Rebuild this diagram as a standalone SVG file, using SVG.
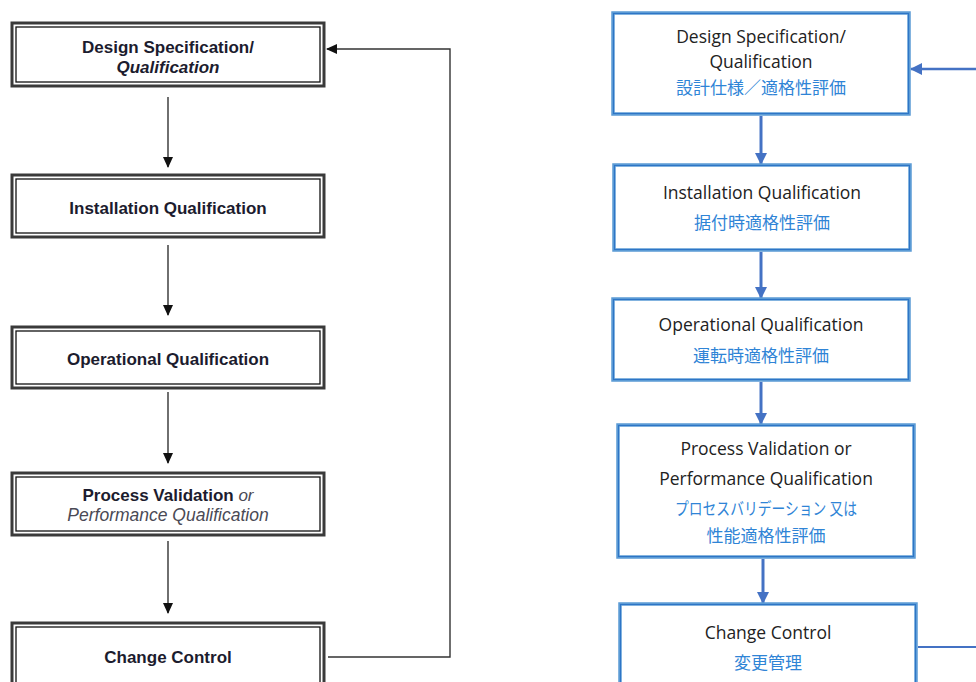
<svg xmlns="http://www.w3.org/2000/svg" width="976" height="682" viewBox="0 0 976 682">
<defs>
<style>
.lo{fill:#fff;stroke:#3a3a3a;stroke-width:3}
.li{fill:none;stroke:#111;stroke-width:1.3}
.lt{font-family:"Liberation Sans",Arial,sans-serif;font-size:17px;font-weight:bold;fill:#1c1c2e;text-anchor:middle}
.li2{font-weight:normal;font-style:italic;fill:#4a4a55}
.lc{fill:none;stroke:#333;stroke-width:1.4}
.ro{fill:#fff;stroke:#5b9bd5;stroke-width:3.5}
.ri{fill:none;stroke:#2e75c6;stroke-width:1}
.re{font-family:"Open Sans","Noto Sans CJK JP",sans-serif;font-size:17.5px;fill:#222;text-anchor:middle}
.rj{font-family:"Noto Sans CJK JP",sans-serif;font-size:17px;fill:#2f84d6;text-anchor:middle}
.rc{fill:none;stroke:#4472c4;stroke-width:3}
</style>
<marker id="ah" markerUnits="userSpaceOnUse" markerWidth="11" markerHeight="10" refX="10" refY="5" orient="auto">
<path d="M0,0 L11,5 L0,10 z" fill="#111"/>
</marker>
<marker id="bh" markerUnits="userSpaceOnUse" markerWidth="12" markerHeight="12" refX="11" refY="6" orient="auto">
<path d="M0,0 L12,6 L0,12 z" fill="#4472c4"/>
</marker>
</defs>
<rect width="976" height="682" fill="#fff"/>

<g id="connectors">
<path class="lc" d="M168,97 V167" marker-end="url(#ah)"/>
<path class="lc" d="M168,245 V315" marker-end="url(#ah)"/>
<path class="lc" d="M168,392 V463" marker-end="url(#ah)"/>
<path class="lc" d="M168,541 V613" marker-end="url(#ah)"/>
<path class="lc" d="M328,657 H450 V49 H327" marker-end="url(#ah)"/>
<path class="rc" d="M761,116 V164" marker-end="url(#bh)"/>
<path class="rc" d="M761,252 V298" marker-end="url(#bh)"/>
<path class="rc" d="M761,382 V424" marker-end="url(#bh)"/>
<path class="rc" d="M763,559 V603" marker-end="url(#bh)"/>
<path class="rc" d="M976,69 H911" marker-end="url(#bh)" style="stroke-width:2.5"/>
<path class="rc" d="M918,647 H976" style="stroke-width:2"/>
</g>

<g id="l-design">
<rect class="lo" x="12" y="23" width="312" height="63"/>
<rect class="li" x="16" y="27" width="304" height="55"/>
<text class="lt" x="168" y="53">Design Specification/</text>
<text class="lt" x="168" y="73" font-style="italic">Qualification</text>
</g>
<g id="l-iq">
<rect class="lo" x="12" y="175" width="312" height="62"/>
<rect class="li" x="16" y="179" width="304" height="54"/>
<text class="lt" x="168" y="214">Installation Qualification</text>
</g>
<g id="l-oq">
<rect class="lo" x="12" y="327" width="312" height="61"/>
<rect class="li" x="16" y="331" width="304" height="53"/>
<text class="lt" x="168" y="365">Operational Qualification</text>
</g>
<g id="l-pv">
<rect class="lo" x="12" y="473" width="312" height="62"/>
<rect class="li" x="16" y="477" width="304" height="54"/>
<text class="lt" x="168" y="501">Process Validation <tspan class="li2">or</tspan></text>
<text class="lt li2" x="168" y="521" style="font-size:17.5px">Performance Qualification</text>
</g>
<g id="l-cc">
<rect class="lo" x="12" y="623" width="312" height="80"/>
<rect class="li" x="16" y="627" width="304" height="72"/>
<text class="lt" x="168" y="663">Change Control</text>
</g>

<g id="r-design">
<rect class="ro" x="613" y="13" width="296" height="101"/>
<rect class="ri" x="613.5" y="13.5" width="295" height="100"/>
<text class="re" x="761" y="43">Design Specification/</text>
<text class="re" x="761" y="68">Qualification</text>
<text class="rj" x="761" y="94">設計仕様／適格性評価</text>
</g>
<g id="r-iq">
<rect class="ro" x="614" y="165" width="296" height="85"/>
<rect class="ri" x="614.5" y="165.5" width="295" height="84"/>
<text class="re" x="762" y="199">Installation Qualification</text>
<text class="rj" x="762" y="229">据付時適格性評価</text>
</g>
<g id="r-oq">
<rect class="ro" x="613" y="299" width="296" height="81"/>
<rect class="ri" x="613.5" y="299.5" width="295" height="80"/>
<text class="re" x="761" y="331">Operational Qualification</text>
<text class="rj" x="761" y="362">運転時適格性評価</text>
</g>
<g id="r-pv">
<rect class="ro" x="618" y="425" width="296" height="132"/>
<rect class="ri" x="618.5" y="425.5" width="295" height="131"/>
<text class="re" x="766" y="455">Process Validation or</text>
<text class="re" x="766" y="485">Performance Qualification</text>
<text class="rj" x="766" y="515" textLength="182" lengthAdjust="spacingAndGlyphs">プロセスバリデーション 又は</text>
<text class="rj" x="766" y="542">性能適格性評価</text>
</g>
<g id="r-cc">
<rect class="ro" x="620" y="604" width="296" height="100"/>
<rect class="ri" x="620.5" y="604.5" width="295" height="99"/>
<text class="re" x="768" y="639">Change Control</text>
<text class="rj" x="768" y="669">変更管理</text>
</g>
</svg>
